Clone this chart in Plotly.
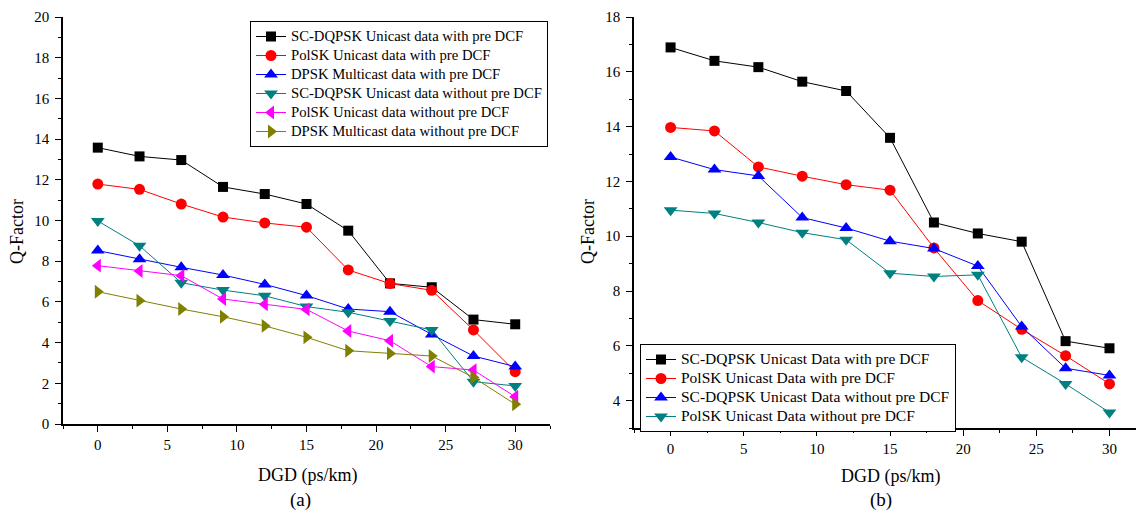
import plotly.graph_objects as go

dgd = [0, 3, 6, 9, 12, 15, 18, 21, 24, 27, 30]

# Panel (a)
a_names = [
    "SC-DQPSK Unicast data with pre DCF",
    "PolSK Unicast data with pre DCF",
    "DPSK Multicast data with pre DCF",
    "SC-DQPSK Unicast data without pre DCF",
    "PolSK Unicast data without pre DCF",
    "DPSK Multicast data without pre DCF",
]
a_sc_with = [13.58, 13.15, 12.97, 11.65, 11.30, 10.81, 9.50, 6.91, 6.72, 5.13, 4.90]
a_pol_with = [11.79, 11.53, 10.81, 10.17, 9.88, 9.67, 7.57, 6.90, 6.57, 4.62, 2.57]
a_dpsk_with = [8.52, 8.10, 7.70, 7.32, 6.86, 6.31, 5.65, 5.52, 4.40, 3.34, 2.82]
a_sc_without = [9.98, 8.76, 6.94, 6.58, 6.30, 5.77, 5.49, 5.06, 4.62, 2.08, 1.87]
a_pol_without = [7.78, 7.52, 7.29, 6.14, 5.88, 5.63, 4.57, 4.09, 2.82, 2.65, 1.34]
a_dpsk_without = [6.50, 6.06, 5.65, 5.27, 4.82, 4.26, 3.60, 3.47, 3.34, 2.29, 0.97]

# Panel (b)
b_names = [
    "SC-DQPSK Unicast Data with pre DCF",
    "PolSK Unicast Data with pre DCF",
    "SC-DQPSK Unicast Data without pre DCF",
    "PolSK Unicast Data without pre DCF",
]
b_sc_with = [16.89, 16.40, 16.17, 15.64, 15.30, 13.59, 10.50, 10.10, 9.80, 6.17, 5.91]
b_pol_with = [13.97, 13.84, 12.53, 12.19, 11.88, 11.68, 9.57, 7.65, 6.60, 5.64, 4.61]
b_sc_without = [12.89, 12.43, 12.20, 10.68, 10.30, 9.82, 9.55, 8.91, 6.70, 5.18, 4.92]
b_pol_without = [10.95, 10.83, 10.50, 10.13, 9.87, 8.65, 8.53, 8.59, 5.58, 4.61, 3.57]

colors = ["#000000", "#FF0000", "#0000FF", "#008080", "#FF00FF", "#808000"]
symbols = ["square", "circle", "triangle-up", "triangle-down", "triangle-left", "triangle-right"]
sizes = [10, 11, 12, 12, 12, 12]

FONT = "Liberation Serif"
W, H = 1136, 513


def big(name, px):
    return '<span style="font-size:%spx">%s</span>' % (px, name)


fig = go.Figure()

a_series = [a_sc_with, a_pol_with, a_dpsk_with, a_sc_without, a_pol_without, a_dpsk_without]
for i, (name, ys) in enumerate(zip(a_names, a_series)):
    fig.add_trace(go.Scatter(
        x=dgd, y=ys, name=big(name, 14.7), mode="lines+markers",
        line=dict(color=colors[i], width=1),
        marker=dict(symbol=symbols[i], size=sizes[i], color=colors[i]),
        xaxis="x", yaxis="y", legend="legend",
    ))

b_series = [b_sc_with, b_pol_with, b_sc_without, b_pol_without]
for i, (name, ys) in enumerate(zip(b_names, b_series)):
    fig.add_trace(go.Scatter(
        x=dgd, y=ys, name=big(name, 15.5), mode="lines+markers",
        line=dict(color=colors[i], width=1),
        marker=dict(symbol=symbols[i], size=sizes[i], color=colors[i]),
        xaxis="x2", yaxis="y2", legend="legend2",
    ))

tickfont = dict(family=FONT, size=15, color="black")
LW = 1.5


def xmain(domain, rng, anchor):
    return dict(domain=domain, range=rng, anchor=anchor, tick0=0, dtick=5,
                ticks="outside", ticklen=6, tickwidth=1.2, tickcolor="black",
                minor=dict(ticks="outside", ticklen=3, dtick=2.5, tick0=0, tickcolor="black", tickwidth=1.2),
                showline=True, linecolor="black", linewidth=LW, showgrid=False, zeroline=False,
                tickfont=tickfont, automargin=False, ticklabelstandoff=0)


def xtop(over, rng, anchor):
    return dict(overlaying=over, side="top", range=rng, anchor=anchor, tick0=0, dtick=5,
                ticks="inside", ticklen=6, tickwidth=1.2, tickcolor="black",
                minor=dict(ticks="inside", ticklen=3, dtick=2.5, tick0=0, tickcolor="black", tickwidth=1.2),
                showline=True, linecolor="black", linewidth=LW, showgrid=False, zeroline=False,
                showticklabels=False, automargin=False)


def ymain(domain, rng, anchor):
    return dict(domain=domain, range=rng, anchor=anchor, tick0=0, dtick=2,
                ticks="outside", ticklen=6, tickwidth=1.2, tickcolor="black",
                minor=dict(ticks="outside", ticklen=3, dtick=1, tick0=0, tickcolor="black", tickwidth=1.2),
                showline=True, linecolor="black", linewidth=LW, showgrid=False, zeroline=False,
                tickfont=tickfont, automargin=False, ticklabelstandoff=3)


def yright(over, rng, anchor):
    return dict(overlaying=over, side="right", range=rng, anchor=anchor, tick0=0, dtick=2,
                ticks="inside", ticklen=6, tickwidth=1.2, tickcolor="black",
                minor=dict(ticks="inside", ticklen=3, dtick=1, tick0=0, tickcolor="black", tickwidth=1.2),
                showline=True, linecolor="black", linewidth=LW, showgrid=False, zeroline=False,
                showticklabels=False, automargin=False)


xa_dom = [63 / W, 550 / W]
ya_dom = [1 - 424 / H, 1 - 17 / H]
xb_dom = [634 / W, 1.0]
yb_dom = [1 - 428 / H, 1 - 17 / H]
xa_rng = [-2.5, 32.5]
ya_rng = [0, 20]
xb_rng = [-2.5, -2.5 + (W - 634) / 14.63]
yb_rng = [3, 18]

fig.update_layout(
    width=W, height=H,
    margin=dict(l=0, r=0, t=0, b=0),
    paper_bgcolor="white", plot_bgcolor="white",
    font=dict(family=FONT, color="black"),
    xaxis=xmain(xa_dom, xa_rng, "y"),
    yaxis=ymain(ya_dom, ya_rng, "x"),
    xaxis3=xtop("x", xa_rng, "y"),
    yaxis3=yright("y", ya_rng, "x"),
    xaxis2=xmain(xb_dom, xb_rng, "y2"),
    yaxis2=ymain(yb_dom, yb_rng, "x2"),
    xaxis4=xtop("x2", xb_rng, "y2"),
    legend=dict(x=250 / W, y=1 - 21 / H, xanchor="left", yanchor="top",
                bgcolor="white", bordercolor="black", borderwidth=1,
                font=dict(family=FONT, size=12, color="black"), tracegroupgap=0, itemwidth=30),
    legend2=dict(x=640 / W, y=1 - 344 / H, xanchor="left", yanchor="top",
                 bgcolor="white", bordercolor="black", borderwidth=1,
                 font=dict(family=FONT, size=12, color="black"), tracegroupgap=0, itemwidth=30),
    showlegend=True,
)

ann_font = dict(family=FONT, size=18, color="black")
anns = [
    dict(text="Q-Factor", x=17 / W, y=1 - 232 / H, textangle=-90, font=dict(family=FONT, size=18, color="black")),
    dict(text="Q-Factor", x=588 / W, y=1 - 232 / H, textangle=-90, font=dict(family=FONT, size=18, color="black")),
    dict(text="DGD (ps/km)", x=308 / W, y=1 - 475 / H, font=ann_font),
    dict(text="DGD (ps/km)", x=891 / W, y=1 - 476 / H, font=ann_font),
    dict(text="(a)", x=300 / W, y=1 - 500 / H, font=dict(family=FONT, size=19, color="black")),
    dict(text="(b)", x=881 / W, y=1 - 500 / H, font=dict(family=FONT, size=19, color="black")),
]
for a in anns:
    fig.add_annotation(xref="paper", yref="paper", showarrow=False,
                       xanchor="center", yanchor="middle", **a)

fig.write_html("out.html")
